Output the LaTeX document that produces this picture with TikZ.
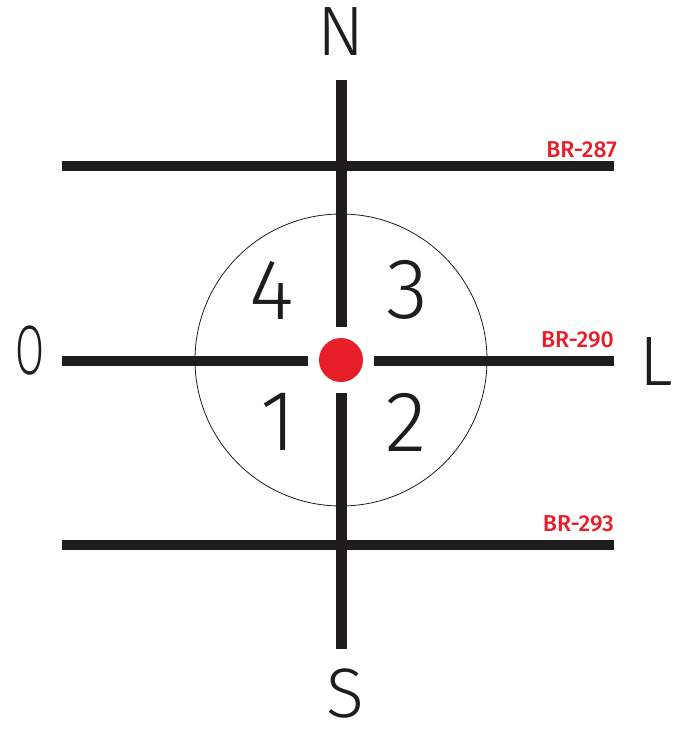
\documentclass[tikz,border=0pt]{standalone}
\usepackage{fontspec}
\setmainfont{Fira Sans Light}
\newfontfamily\labfont{Fira Sans Medium}
\definecolor{dotred}{RGB}{232,30,40}
\definecolor{ink}{RGB}{30,28,28}
\begin{document}
\begin{tikzpicture}[x=1pt,y=-1pt,
  road/.style={line width=10pt,ink},
  axis/.style={line width=11pt,ink},
  compass/.style={inner sep=0pt,font=\fontsize{70}{70}\selectfont,ink},
  quad/.style={inner sep=0pt,font=\fontsize{86}{86}\selectfont,ink},
  brlabel/.style={inner sep=0pt,anchor=base east,text=dotred,font=\labfont\fontsize{23}{23}\selectfont}]
\useasboundingbox (0,0) rectangle (675,731);
% coordinates
\coordinate (top) at (341,80);
\coordinate (bot) at (341,649);
\coordinate (upgap) at (341,327);
\coordinate (lowgap) at (341,393);
\coordinate (r1w) at (62,166);
\coordinate (r1e) at (614,166);
\coordinate (r2w) at (62,361);
\coordinate (r2gw) at (308,361);
\coordinate (r2ge) at (374,361);
\coordinate (r2e) at (614,361);
\coordinate (r3w) at (62,545);
\coordinate (r3e) at (614,545);
% circle
\node[draw=ink,line width=0.8pt,circle,minimum size=292pt,inner sep=0pt] (ring) at (341,360) {};
% roads
\draw[road] (r1w) -- (r1e);
\draw[road] (r3w) -- (r3e);
\draw[road] (r2w) -- (r2gw);
\draw[road] (r2ge) -- (r2e);
% axis
\draw[axis] (top) -- (upgap);
\draw[axis] (lowgap) -- (bot);
% dot
\node[circle,fill=dotred,minimum size=44pt,inner sep=0pt] (dot) at (341,360) {};
% compass
\node[compass] (N) at (341,32) {N};
\node[compass] (S) at (345,694) {S};
\node[compass] (O) at (30,351) {\scalebox{0.6}[1]{O}};
\node[compass] (L) at (656,362) {L};
% quadrants
\node[quad] (q4) at (272,290) {4};
\node[quad] (q3) at (407,290) {3};
\node[quad] (q1) at (278,422) {1};
\node[quad] (q2) at (406,422) {2};
% labels
\node[brlabel] (b287) at (617,157) {BR-287};
\node[brlabel] (b290) at (614,347) {BR-290};
\node[brlabel] (b293) at (614,531) {BR-293};
\end{tikzpicture}
\end{document}
